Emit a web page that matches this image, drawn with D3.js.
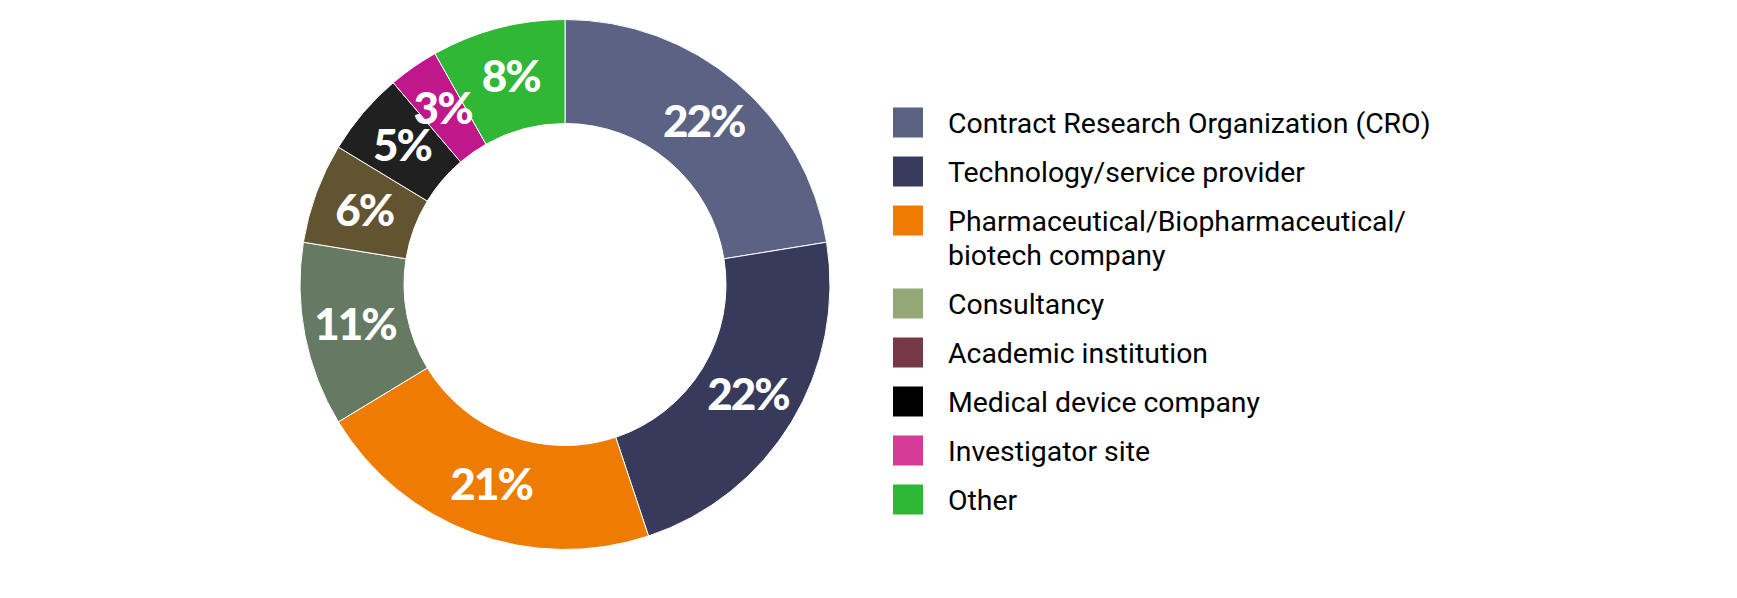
<!DOCTYPE html>
<html>
<head>
<meta charset="utf-8">
<script src="https://cdn.jsdelivr.net/npm/d3@7"></script>
<style>
  html, body { margin: 0; padding: 0; background: #ffffff; }
  svg { display: block; }
</style>
</head>
<body>
<svg id="chart" width="1737" height="598"></svg>
<script>
// ---- data ----
const categories = [
  "Contract Research Organization (CRO)",
  "Technology/service provider",
  "Pharmaceutical/Biopharmaceutical/\nbiotech company",
  "Consultancy",
  "Academic institution",
  "Medical device company",
  "Investigator site",
  "Other"
];
const values = [22, 22, 21, 11, 6, 5, 3, 8];
const valueLabels = ["22%", "22%", "21%", "11%", "6%", "5%", "3%", "8%"];
const sliceColors = ["#5b6283", "#383a5b", "#ee7c03", "#667a63", "#625430", "#202020", "#c0178a", "#2fb735"];
const legendColors = ["#5b6383", "#383b5b", "#ee7c03", "#93a874", "#763a46", "#000000", "#d63c97", "#2fb836"];

// ---- layout ----
const cx = 565, cy = 284.5;
const rOuter = 265, rInner = 161, rLabel = 214;

const svg = d3.select("#chart");
const g = svg.append("g").attr("transform", `translate(${cx},${cy})`);

const pie = d3.pie().sort(null).value(d => d.value);
const data = categories.map((c, i) => ({ name: c, value: values[i], label: valueLabels[i], i }));
const arcs = pie(data);

const arc = d3.arc().innerRadius(rInner).outerRadius(rOuter);
const labelArc = d3.arc().innerRadius(rLabel).outerRadius(rLabel);

g.selectAll("path.slice")
  .data(arcs)
  .join("path")
  .attr("class", "slice")
  .attr("d", arc)
  .attr("fill", d => sliceColors[d.data.i])
  .attr("stroke", "#ffffff")
  .attr("stroke-width", 1);

g.selectAll("text.pct")
  .data(arcs)
  .join("text")
  .attr("class", "pct")
  .attr("transform", d => {
    const [x, y] = labelArc.centroid(d);
    return `translate(${x},${y + 15})`;
  })
  .attr("text-anchor", "middle")
  .attr("fill", "#ffffff")
  .style("font-family", "Lato, 'Open Sans', sans-serif")
  .style("font-weight", 900)
  .style("font-size", "44px")
  .style("letter-spacing", "-2px")
  .text(d => d.data.label);

// ---- legend ----
const legendX = 893, legendTop = 107.5, step = 49, extraLine = 34, sq = 30;
const legend = svg.append("g");
let y = legendTop;
categories.forEach((c, i) => {
  const lines = c.split("\n");
  legend.append("rect")
    .attr("x", legendX).attr("y", y)
    .attr("width", sq).attr("height", sq)
    .attr("fill", legendColors[i]);
  const t = legend.append("text")
    .attr("x", legendX + 55)
    .attr("y", y + 25)
    .attr("fill", "#000000")
    .style("font-family", "Roboto, sans-serif")
    .style("font-weight", 400)
    .style("font-size", "28.4px");
  lines.forEach((ln, k) => {
    t.append("tspan").attr("x", legendX + 55).attr("dy", k === 0 ? 0 : extraLine).text(ln);
  });
  y += step + (lines.length - 1) * extraLine;
});
</script>
</body>
</html>
